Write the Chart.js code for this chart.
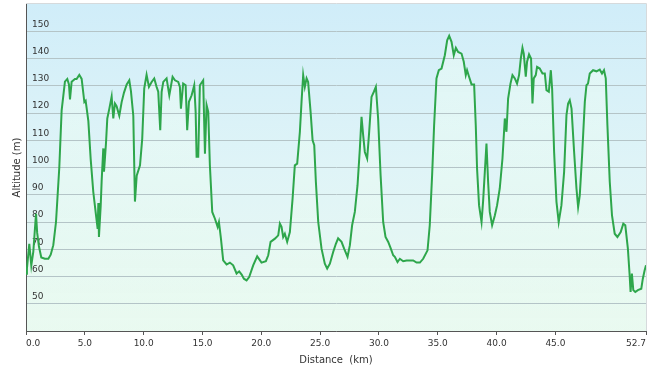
<!DOCTYPE html>
<html>
<head>
<meta charset="utf-8">
<script src="https://cdn.jsdelivr.net/npm/chart.js@4"></script>
<style>
html,body{margin:0;padding:0;background:#fff;}
canvas{display:block;}
</style>
</head>
<body>
<canvas id="c" width="650" height="372"></canvas>
<script>
const distanceKm = [0.0,0.08,0.28,0.45,0.62,0.85,0.95,1.1,1.3,1.6,1.9,2.1,2.32,2.55,2.83,3.03,3.31,3.51,3.65,3.74,3.88,4.16,4.3,4.53,4.73,4.96,5.07,5.3,5.5,5.72,5.95,6.09,6.15,6.2,6.35,6.43,6.57,6.63,6.8,6.91,7.08,7.28,7.42,7.56,7.7,7.93,8.13,8.33,8.56,8.78,8.92,9.12,9.26,9.41,9.69,9.88,10.05,10.25,10.45,10.68,10.9,11.1,11.24,11.41,11.53,11.67,11.95,12.18,12.46,12.66,12.94,13.08,13.17,13.36,13.57,13.7,13.85,14.08,14.3,14.42,14.5,14.64,14.78,15.06,15.21,15.35,15.49,15.63,15.83,16.06,16.29,16.4,16.57,16.76,17.05,17.33,17.61,17.9,18.12,18.33,18.52,18.75,18.97,19.31,19.65,20.02,20.39,20.59,20.79,21.16,21.44,21.58,21.72,21.86,22.0,22.2,22.43,22.66,22.85,23.05,23.28,23.42,23.56,23.7,23.85,23.98,24.19,24.36,24.5,24.64,24.84,25.12,25.4,25.6,25.83,26.11,26.34,26.53,26.82,27.04,27.33,27.53,27.72,27.95,28.18,28.38,28.52,28.66,28.8,29.0,29.17,29.37,29.57,29.74,29.93,30.14,30.36,30.56,30.79,31.01,31.21,31.35,31.58,31.78,32.06,32.35,32.63,32.91,33.2,33.48,33.76,34.13,34.32,34.52,34.69,34.89,35.09,35.32,35.6,35.8,35.97,36.17,36.36,36.54,36.73,37.02,37.21,37.38,37.49,37.66,37.87,38.09,38.23,38.34,38.51,38.72,38.85,39.0,39.14,39.28,39.42,39.62,39.85,40.04,40.27,40.5,40.7,40.84,40.98,41.18,41.35,41.55,41.74,41.91,42.06,42.2,42.31,42.48,42.59,42.76,42.93,43.05,43.16,43.33,43.44,43.67,43.9,44.1,44.24,44.44,44.61,44.72,44.89,45.09,45.28,45.51,45.74,45.94,46.08,46.22,46.37,46.59,46.79,46.93,47.07,47.27,47.5,47.64,47.77,47.92,48.2,48.49,48.77,48.96,49.13,49.28,49.42,49.62,49.81,50.04,50.27,50.55,50.77,50.94,51.16,51.3,51.39,51.5,51.62,51.79,52.01,52.3,52.43,52.58,52.7];
const altitudeM = [61,63,72,64,69,83,76,71,67,66.5,66.5,68,71.5,80,100,121,131.5,132.5,130.5,125,131.5,132.5,132.5,134,132.5,124,124.5,117,103,91,82.5,77.5,87,74.5,86,95,107,98.5,109,118,121.5,126,118,123.5,122.5,119,124,127.5,130.5,132,128,119,87.5,97,100.8,110.6,129,134,129.6,131.4,132.7,129.6,127.8,113.7,127.8,131.4,132.7,126.5,133.3,132,131.4,129.6,121.6,130.8,130.2,113.7,124.1,126.5,130.2,120.4,103.9,103.9,130.2,132,105.1,122.9,120.4,100.8,83.7,81.2,78.2,80,73.9,65.9,64.4,65.1,64.1,61.1,61.9,60.7,59.2,58.6,59.8,64.1,67.4,65.1,65.6,67.8,72.7,73.9,75.1,79.4,78.2,74.5,75.7,72.7,76.3,88.6,100.8,101.4,113.1,124.1,133.9,129.6,132.7,131.4,120.4,110,108.2,94.7,80,70.2,64.7,62.9,64.7,69,72,74,72.7,70.2,67.2,71.5,78.8,83.7,93.5,107,118.6,111.8,105.7,103.3,113.1,125.9,127.8,129.6,118,97.2,80,74.5,72.7,70.2,67.8,67.2,65.3,66.5,65.6,65.9,65.9,65.9,65.1,65.1,66.5,69.6,78.8,97.2,115.5,132.7,135.7,136.3,141.2,146.7,148.3,146.1,141.2,143.9,142.4,141.8,138.8,133.9,135.7,133.3,130.5,130.5,115.5,99.6,86.1,80,87.4,98.4,108.8,94.7,83.7,78.8,82.4,86.1,92.3,103.3,118,113.1,125.3,130.8,133.9,132.7,130.8,133.9,140,143.9,141.8,133.3,138.8,141.5,140,123.5,132.7,133.9,136.9,136.3,134.5,134.5,128.4,127.8,135.7,129,105.7,87.4,80,86.1,98.4,119.2,123.5,124.7,121.6,105.7,92.3,85.5,89.8,104.5,124.1,130.2,130.8,134.5,135.7,135.3,135.9,134.5,135.7,132.7,115.5,94.7,82.4,75.7,74.5,76.3,79.4,78.8,70.2,61.1,54.3,61.1,55,54.3,55,55.5,59.2,62.2,64.1];
const xTickValues = [0, 5, 10, 15, 20, 25, 30, 35, 40, 45, 52.7];
const yTickValues = [40, 50, 60, 70, 80, 90, 100, 110, 120, 130, 140, 150, 160];
const yLabelValues = [50, 60, 70, 80, 90, 100, 110, 120, 130, 140, 150];
const xTitle = 'Distance  (km)';
const yTitle = 'Altitude (m)';

Chart.defaults.font.family = "'DejaVu Sans', Verdana, sans-serif";

const bgPlugin = {
  id: 'bg',
  beforeDraw(chart) {
    const a = chart.chartArea; const ctx = chart.ctx;
    const g = ctx.createLinearGradient(0, a.top, 0, a.bottom);
    g.addColorStop(0, '#d0edf9');
    g.addColorStop(0.5, '#dff4f7');
    g.addColorStop(1, '#eaf9f1');
    ctx.save();
    ctx.globalCompositeOperation = 'destination-over';
    ctx.fillStyle = g;
    ctx.fillRect(a.left, a.top, a.right - a.left, a.bottom - a.top);
    ctx.restore();
  },
  afterDraw(chart) {
    const a = chart.chartArea; const ctx = chart.ctx;
    ctx.save();
    ctx.strokeStyle = '#d6dadc';
    ctx.lineWidth = 1;
    ctx.beginPath();
    ctx.moveTo(a.left, Math.round(a.top) - 0.5);
    ctx.lineTo(Math.round(a.right) + 0.5, Math.round(a.top) - 0.5);
    ctx.lineTo(Math.round(a.right) + 0.5, a.bottom);
    ctx.stroke();
    ctx.restore();
  }
};

new Chart(document.getElementById('c'), {
  type: 'line',
  data: {
    datasets: [{
      data: distanceKm.map((d, i) => ({x: d, y: altitudeM[i]})),
      borderColor: '#2ea64b',
      borderWidth: 2,
      pointRadius: 0,
      tension: 0,
      fill: 'start',
      backgroundColor(ctx) {
        const a = ctx.chart.chartArea;
        if (!a) return 'rgba(230,250,235,0.4)';
        const g = ctx.chart.ctx.createLinearGradient(0, a.top, 0, a.bottom);
        g.addColorStop(0, 'rgba(240,255,245,0.45)');
        g.addColorStop(1, 'rgba(232,251,238,0.4)');
        return g;
      }
    }]
  },
  options: {
    responsive: false,
    animation: false,
    layout: {padding: {top: 4, right: 4, left: 0, bottom: 0}},
    plugins: {legend: {display: false}, tooltip: {enabled: false}, filler: {drawTime: 'beforeDraw'}},
    scales: {
      x: {
        type: 'linear',
        min: 0, max: 52.7,
        afterBuildTicks(s) { s.ticks = xTickValues.map(v => ({value: v})); },
        afterFit(s) { s.height = 41; s.paddingLeft = 0; s.paddingRight = 0; },
        ticks: {
          autoSkip: false, maxRotation: 0, padding: 3, align: 'inner',
          color: '#333', font: {size: 9},
          callback: v => Number(v).toFixed(1)
        },
        grid: {display: true, drawOnChartArea: false, drawTicks: true, tickLength: 4, color: '#555'},
        border: {display: true, color: '#555', width: 1},
        title: {display: true, text: xTitle, color: '#333', font: {size: 10}, padding: {top: 0, bottom: 6}}
      },
      y: {
        min: 40, max: 160,
        afterBuildTicks(s) { s.ticks = yTickValues.map(v => ({value: v})); },
        afterFit(s) { s.width = 26; s.paddingTop = 0; s.paddingBottom = 0; },
        ticks: {
          mirror: true, padding: 6, labelOffset: -7,
          color: '#333', font: {size: 9},
          callback: v => yLabelValues.includes(v) ? String(v) : ''
        },
        grid: {
          drawTicks: false,
          color: c => (c.tick && c.tick.value === 160) ? 'rgba(0,0,0,0)' : '#b4c4c7',
          lineWidth: 1
        },
        border: {display: true, color: '#555', width: 1},
        title: {display: true, text: yTitle, color: '#333', font: {size: 10}, padding: {top: 11, bottom: 0}}
      }
    }
  },
  plugins: [bgPlugin]
});
</script>
</body>
</html>
